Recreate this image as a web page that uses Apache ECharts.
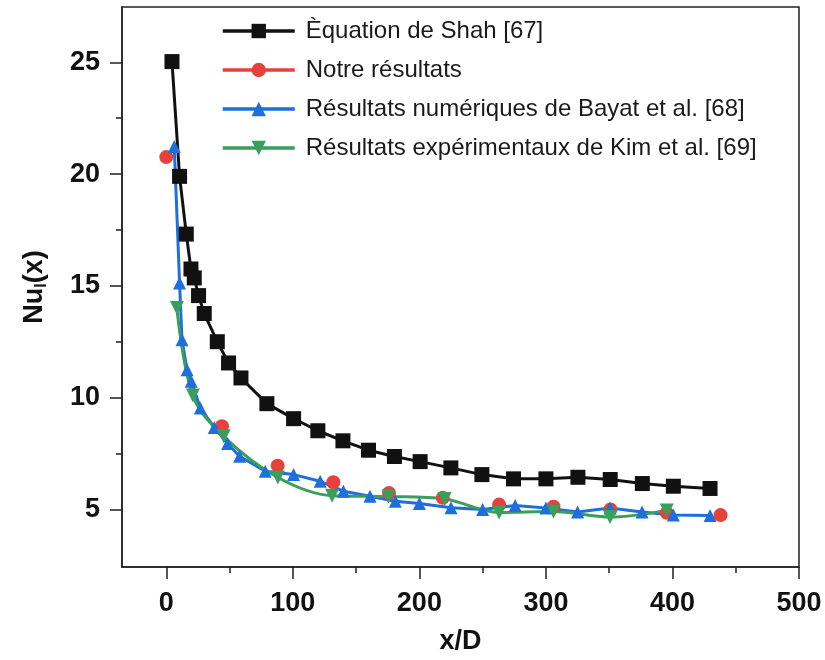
<!DOCTYPE html>
<html>
<head>
<meta charset="utf-8">
<script src="https://cdn.jsdelivr.net/npm/echarts@6/dist/echarts.min.js"></script>
<style>
  html, body { margin: 0; padding: 0; background: #ffffff; }
  #chart { width: 825px; height: 660px; }
</style>
</head>
<body>
<div id="chart"></div>
<script>
// Local Nusselt number along the tube, Nu_l(x) against x/D

const seriesNames = [
  'Èquation de Shah [67]',
  'Notre résultats',
  'Résultats numériques de Bayat et al. [68]',
  'Résultats expérimentaux de Kim et al. [69]'
];

// Shah correlation
const shahX = [4.5, 10.5, 15.8, 19.5, 22.1, 25.5, 30, 40.3, 49.2, 59, 79.5, 100.6, 119.8, 139.6, 159.8, 180.3, 200.6, 224.9, 249.4, 274.4, 300, 325.3, 350.8, 376.2, 400.7, 429.7];
const shahY = [25.03, 19.9, 17.32, 15.76, 15.36, 14.57, 13.77, 12.51, 11.56, 10.89, 9.74, 9.07, 8.53, 8.08, 7.66, 7.38, 7.15, 6.87, 6.57, 6.38, 6.38, 6.45, 6.35, 6.17, 6.05, 5.95];

// Present results
const oursX = [0, 44, 88, 132, 176, 218.5, 263, 306, 351, 395.5, 438];
const oursY = [20.76, 8.73, 6.97, 6.23, 5.75, 5.53, 5.23, 5.13, 5.01, 4.86, 4.76];

// Bayat et al. numerical results
const bayatX = [6.3, 10.5, 12.4, 16.4, 19.7, 26.9, 37.9, 48.4, 57.9, 78.2, 100.6, 121.6, 140, 161, 181, 200, 225, 250, 275.7, 300, 325, 350.7, 376, 400.7, 429.7];
const bayatY = [21.23, 15.13, 12.6, 11.26, 10.74, 9.55, 8.68, 7.96, 7.39, 6.72, 6.57, 6.27, 5.83, 5.6, 5.38, 5.28, 5.09, 5.01, 5.19, 5.08, 4.9, 5.08, 4.9, 4.76, 4.74];

// Kim et al. experimental results
const kimX = [8.4, 21, 45.3, 88.2, 131, 175.6, 220, 263, 306, 350.7, 395.5];
const kimY = [14.02, 10.1, 8.28, 6.44, 5.63, 5.59, 5.48, 4.88, 4.92, 4.67, 4.97];

// Axis ticks
const xTicks = [0, 100, 200, 300, 400, 500];
const xMinorTicks = [50, 150, 250, 350, 450];
const yTicks = [5, 10, 15, 20, 25];
const yMinorTicks = [7.5, 12.5, 17.5, 22.5];

const colors = ['#111111', '#e8413c', '#1e6fdc', '#3a9e5c'];

const pairs = (xs, ys) => xs.map((x, i) => [x, ys[i]]);

const FONT = 'Liberation Sans, Arial, sans-serif';
const AXIS_COLOR = '#222222';

const chart = echarts.init(document.getElementById('chart'), null, { renderer: 'canvas' });

const xBase = { type: 'value', min: -35, max: 500, gridIndex: 0, position: 'bottom', splitLine: { show: false } };
const yBase = { type: 'value', min: 2.44, max: 27.47, gridIndex: 0, position: 'left', splitLine: { show: false } };

chart.setOption({
  animation: false,
  backgroundColor: '#ffffff',
  grid: {
    left: 122, right: 26, top: 7, bottom: 92.5,
    show: true, borderColor: AXIS_COLOR, borderWidth: 1.5, backgroundColor: 'transparent'
  },
  legend: {
    orient: 'vertical',
    left: 221,
    top: 18,
    padding: 0,
    itemWidth: 72,
    itemHeight: 18,
    itemGap: 13,
    textStyle: { fontFamily: FONT, fontSize: 24, color: '#1a1a1a', lineHeight: 26, padding: [0, 0, 0, 6] },
    data: [
      { name: seriesNames[0], lineStyle: { width: 3.5 } },
      { name: seriesNames[1], lineStyle: { opacity: 1, width: 3.5, color: colors[1] } },
      { name: seriesNames[2], lineStyle: { width: 3.5 } },
      { name: seriesNames[3], lineStyle: { width: 3.5 } }
    ]
  },
  xAxis: [
    Object.assign({}, xBase, {
      name: 'x/D',
      nameLocation: 'middle',
      nameGap: 61,
      nameTextStyle: { fontFamily: FONT, fontSize: 27, fontWeight: 'bold', color: '#111' },
      axisLine: { show: true, onZero: false, lineStyle: { color: AXIS_COLOR, width: 1.5 } },
      axisTick: { show: true, customValues: xTicks, length: 12, lineStyle: { color: AXIS_COLOR, width: 1.5 } },
      axisLabel: { customValues: xTicks, margin: 23, fontFamily: FONT, fontSize: 27, fontWeight: 'bold', color: '#111' }
    }),
    Object.assign({}, xBase, {
      axisLine: { show: false, onZero: false },
      axisTick: { show: true, customValues: xMinorTicks, length: 6, lineStyle: { color: AXIS_COLOR, width: 1.5 } },
      axisLabel: { show: false }
    })
  ],
  yAxis: [
    Object.assign({}, yBase, {
      name: '{b|Nu}{s|l}{b|(x)}',
      nameLocation: 'middle',
      nameRotate: 90,
      nameGap: 72,
      nameTextStyle: {
        rich: {
          b: { fontFamily: FONT, fontSize: 27, fontWeight: 'bold', color: '#111' },
          s: { fontFamily: FONT, fontSize: 16, fontWeight: 'bold', color: '#111', padding: [14, 0, 0, 0] }
        }
      },
      axisLine: { show: true, onZero: false, lineStyle: { color: AXIS_COLOR, width: 1.5 } },
      axisTick: { show: true, customValues: yTicks, length: 12, lineStyle: { color: AXIS_COLOR, width: 1.5 } },
      axisLabel: { customValues: yTicks, margin: 22, fontFamily: FONT, fontSize: 27, fontWeight: 'bold', color: '#111' }
    }),
    Object.assign({}, yBase, {
      axisLine: { show: false, onZero: false },
      axisTick: { show: true, customValues: yMinorTicks, length: 6, lineStyle: { color: AXIS_COLOR, width: 1.5 } },
      axisLabel: { show: false }
    })
  ],
  series: [
    {
      name: seriesNames[0], type: 'line', data: pairs(shahX, shahY),
      symbol: 'rect', symbolSize: 15,
      itemStyle: { color: colors[0] },
      lineStyle: { color: colors[0], width: 3 }
    },
    {
      name: seriesNames[1], type: 'line', data: pairs(oursX, oursY),
      symbol: 'circle', symbolSize: 14,
      itemStyle: { color: colors[1] },
      lineStyle: { color: colors[1], width: 3, opacity: 0 }
    },
    {
      name: seriesNames[2], type: 'line', data: pairs(bayatX, bayatY),
      symbol: 'triangle', symbolSize: 13,
      itemStyle: { color: colors[2] },
      lineStyle: { color: colors[2], width: 3 }
    },
    {
      name: seriesNames[3], type: 'line', data: pairs(kimX, kimY),
      symbol: 'triangle', symbolRotate: 180, symbolSize: 14, smooth: 0.35,
      itemStyle: { color: colors[3] },
      lineStyle: { color: colors[3], width: 3 }
    }
  ]
});
</script>
</body>
</html>
